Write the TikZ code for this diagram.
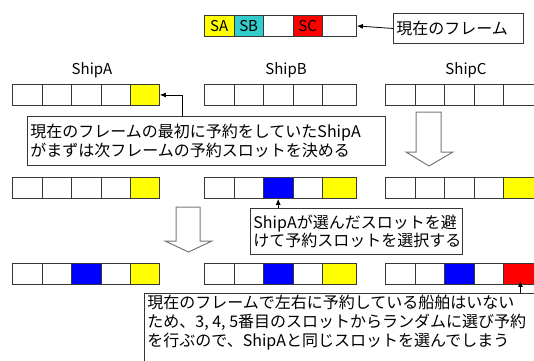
\documentclass[tikz,border=0pt]{standalone}
\usepackage{fontspec}
\setmainfont{Noto Sans CJK JP}
\usetikzlibrary{arrows.meta,calc}
\definecolor{cyel}{RGB}{255,255,0}
\definecolor{cteal}{RGB}{51,204,204}
\definecolor{cred}{RGB}{255,0,0}
\definecolor{cblue}{RGB}{0,0,255}
\definecolor{cline}{RGB}{55,55,55}
\definecolor{cgray}{RGB}{120,120,120}
\newcommand\drawframe[5]{%
  \foreach \f/\t [count=\i] in {#5} {%
    \pgfmathsetmacro\xx{#2+(\i-1)*29.5}%
    \pgfmathsetmacro\ww{\i==5 ? #4 : 29.5}%
    \node[cell, fill=\f, minimum width=\ww pt, anchor=north west] (#1-\i) at (\xx,#3) {\t};
  }%
}
\begin{document}
\begin{tikzpicture}[x=1pt,y=-1pt,
  cell/.style={draw=cline, line width=0.9pt, inner sep=0pt, minimum height=21pt,
    font=\fontsize{15}{15}\selectfont},
  callout/.style={draw=cline, line width=0.9pt, fill=white, align=left, anchor=north west,
    inner xsep=3pt, inner ysep=0pt, font=\fontsize{16}{18.5}\selectfont},
  shiplabel/.style={font=\fontsize{15}{15}\selectfont, inner sep=0pt},
  hollow/.style={draw=cgray, line width=1pt, fill=white, line join=miter},
  pointer/.style={draw=black, line width=0.8pt, -{Latex[length=6pt,width=5pt]}}]
\useasboundingbox (0,0) rectangle (534,360);
\clip (0,0) rectangle (534,360);

% current frame
\drawframe{T}{204}{15}{34}{cyel/SA,cteal/SB,white/,cred/SC,white/}
\node[callout, minimum width=130pt, minimum height=30pt, text width=124pt] (lbl) at (393,13) {現在のフレーム};
\draw[pointer] (lbl.west) -- (T-5.east);

% ship labels
\node[shiplabel] (sa) at (92,70) {ShipA};
\node[shiplabel] (sb) at (286,70) {ShipB};
\node[shiplabel] (sc) at (466,70) {ShipC};

% row 1
\drawframe{A1}{12}{84}{29}{white/,white/,white/,white/,cyel/}
\drawframe{B1}{204}{84}{34}{white/,white/,white/,white/,white/}
\drawframe{C1}{385}{84}{34}{white/,white/,white/,white/,white/}

% row 2
\drawframe{A2}{12}{177}{29}{white/,white/,white/,white/,cyel/}
\drawframe{B2}{204}{177}{34}{white/,white/,cblue/,white/,cyel/}
\drawframe{C2}{385}{177}{34}{white/,white/,white/,white/,cyel/}

% row 3
\drawframe{A3}{12}{263}{29}{white/,white/,cblue/,white/,cyel/}
\drawframe{B3}{204}{263}{34}{white/,white/,cblue/,white/,cyel/}
\drawframe{C3}{385}{263}{34}{white/,white/,cblue/,white/,cred/}

% hollow arrows
\draw[hollow] (416,112) -- (441,112) -- (441,152) -- (453,152) -- (429,166) -- (406,152) -- (416,152) -- cycle;
\draw[hollow] (176,207) -- (200,207) -- (200,241) -- (212,241) -- (188.5,252) -- (165,241) -- (176,241) -- cycle;

% callouts
\node[callout, minimum width=358pt, minimum height=49pt, text width=352pt] (c1) at (27,116)
  {現在のフレームの最初に予約をしていたShipA\\がまずは次フレームの予約スロットを決める};
\draw[pointer] ($(c1.north west)+(155,0)$) |- (A1-5.east);

\node[callout, minimum width=212pt, minimum height=46pt, text width=206pt] (c2) at (250,208)
  {ShipAが選んだスロットを避\\けて予約スロットを選択する};
\draw[pointer] (c2.north -| B2-3.south) -- (B2-3.south);

\node[callout, inner ysep=2pt] (c3) at (144,293)
  {\parbox[t][80pt][t]{414pt}{\fontsize{16}{19}\selectfont
   現在のフレームで左右に予約している船舶はいない\\
   ため、3, 4, 5番目のスロットからランダムに選び予約\\
   を行ぶので、ShipAと同じスロットを選んでしまう}};
\draw[pointer] (c3.north -| C3-5.south) -- ($(C3-5.south)+(0,-4)$);
\end{tikzpicture}
\end{document}
